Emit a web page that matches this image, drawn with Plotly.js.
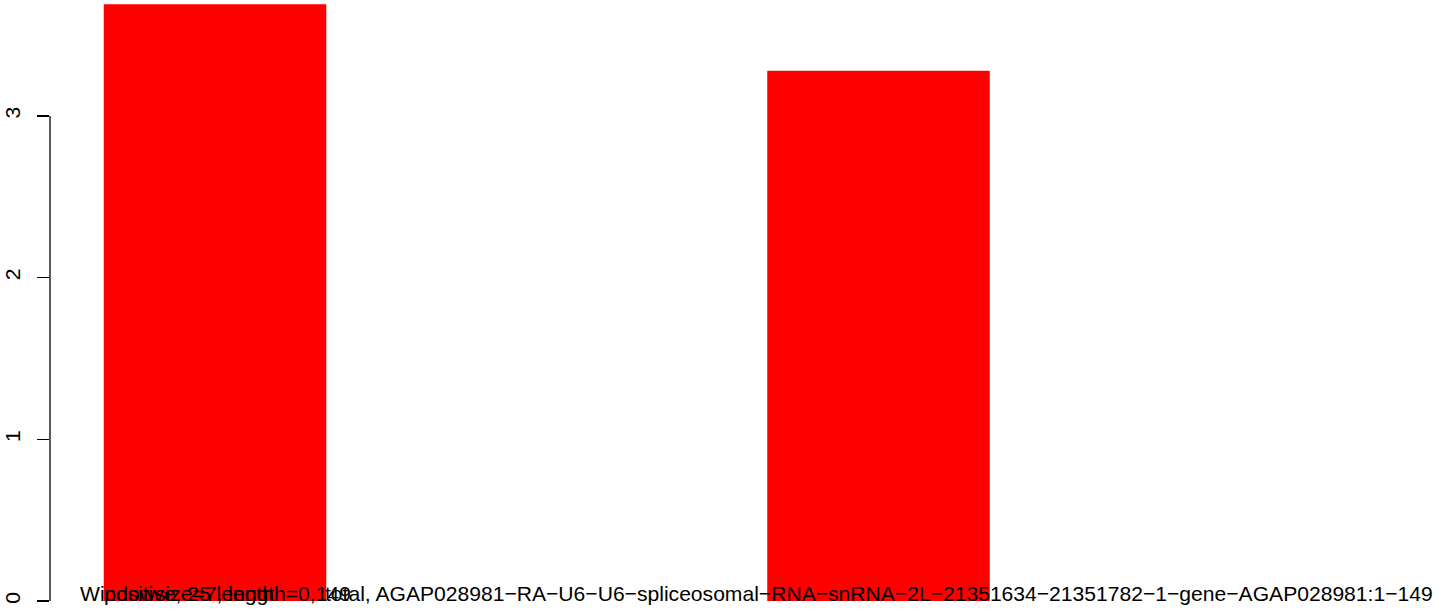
<!DOCTYPE html>
<html><head><meta charset="utf-8">
<script src="https://cdn.plot.ly/plotly-3.0.1.min.js"></script>
<style>html,body{margin:0;padding:0;background:#fff}#chart{width:1444px;height:613px}</style>
</head><body><div id="chart"></div>
<script>
// Bar names (drawn centred under each bar, as in the R barplot)
const categories = [
  "Windowsize=7, length=0,149",
  "total, AGAP028981−RA−U6−U6−spliceosomal−RNA−snRNA−2L−21351634−21351782−1−gene−AGAP028981:1−149"
];
// Bar heights
const values = [3.69, 3.28];
// Extra bottom text overlapping the first name (starts at the first bar's left edge)
const extraLabel = "positive, 25 length";
// Y axis ticks
const yTickValues = [0, 1, 2, 3];
const yTickLabels = ["0", "1", "2", "3"];

const FONT = '"Liberation Sans", Arial, Helvetica, sans-serif';
const textFont = {family: FONT, size: 21.1, color: '#000'};

const trace = {
  type: 'bar',
  x: categories,
  y: values,
  marker: {color: '#FF0000', line: {width: 0}},
  hoverinfo: 'skip'
};

const annotations = categories.map((c, i) => ({
  x: i, xref: 'x', y: 0, yref: 'paper',
  xanchor: 'center', yanchor: 'middle', yshift: 8,
  text: c, showarrow: false, font: textFont
}));
annotations.push({
  x: (102 - 50) / 1394, xref: 'paper', y: 0, yref: 'paper',
  xanchor: 'left', yanchor: 'middle', yshift: 8,
  text: extraLabel, showarrow: false, font: textFont
});

const layout = {
  width: 1444, height: 613,
  margin: {l: 50, r: 0, t: 0, b: 12, pad: 0},
  paper_bgcolor: '#fff', plot_bgcolor: '#fff',
  showlegend: false,
  bargap: 0.6646,
  font: {family: FONT, color: '#000'},
  xaxis: {
    type: 'category', categoryorder: 'array', categoryarray: categories,
    range: [-0.2487, 1.8523], showticklabels: false, ticks: '',
    showline: false, showgrid: false, zeroline: false, fixedrange: true
  },
  yaxis: {
    range: [0, 3.7168], tickmode: 'array', tickvals: yTickValues, ticktext: yTickLabels,
    tickangle: -90, ticks: 'outside', ticklen: 12, tickwidth: 1.3, tickcolor: '#000',
    ticklabelstandoff: 9,
    tickfont: textFont, showline: false, showgrid: false, zeroline: false, fixedrange: true
  },
  shapes: [{
    type: 'line', xref: 'paper', x0: 0, x1: 0, yref: 'y',
    y0: yTickValues[0], y1: yTickValues[yTickValues.length - 1],
    line: {color: '#000', width: 1.3}
  }],
  annotations: annotations
};

Plotly.newPlot('chart', [trace], layout, {displayModeBar: false, staticPlot: true});
</script>
</body></html>
